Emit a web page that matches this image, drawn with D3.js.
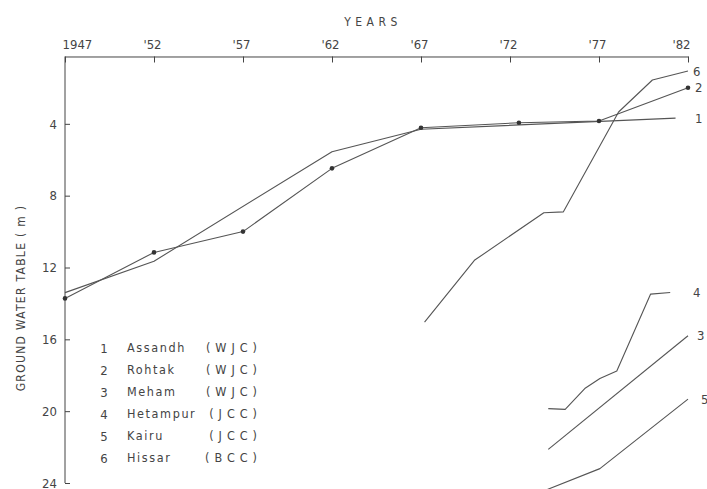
<!DOCTYPE html>
<html>
<head>
<meta charset="utf-8">
<script src="https://cdn.jsdelivr.net/npm/d3@7"></script>
<style>
  html, body { margin: 0; padding: 0; background: #fff; }
  svg { display: block; }
  text {
    font-family: 'DejaVu Sans Condensed', 'DejaVu Sans', sans-serif;
    font-stretch: condensed;
    fill: #444;
  }
</style>
</head>
<body>
<svg id="chart" width="707" height="489"></svg>
<script>
// Axis ticks
const yearTicks = [1947, 1952, 1957, 1962, 1967, 1972, 1977, 1982];
const yearLabels = ["1947", "'52", "'57", "'62", "'67", "'72", "'77", "'82"];
const depthTicks = [4, 8, 12, 16, 20, 24];

// Depth to ground water table (m below surface), [year, depth]
const assandh  = [[1947, 13.4], [1952, 11.65], [1962, 5.55], [1967, 4.3], [1981.3, 3.68]];
const rohtak   = [[1947, 13.72], [1952, 11.16], [1957, 10.0], [1962, 6.48], [1967, 4.22],
                  [1972.5, 3.94], [1977, 3.84], [1982, 1.99]];
const meham    = [[1974.15, 22.13], [1982, 15.8]];
const hetampur = [[1974.15, 19.86], [1975.1, 19.9], [1976.2, 18.74], [1977.05, 18.18],
                  [1978, 17.76], [1979.9, 13.48], [1981, 13.39]];
const kairu    = [[1974, 24.4], [1977.05, 23.2], [1982, 19.33]];
const hissar   = [[1967.2, 15.04], [1970, 11.6], [1973.9, 8.95], [1975, 8.9],
                  [1978.1, 3.34], [1980, 1.56], [1982, 1.06]];

// Legend entries
const seriesNos = ["1", "2", "3", "4", "5", "6"];
const siteNames = ["Assandh", "Rohtak", "Meham", "Hetampur", "Kairu", "Hissar"];
const canals    = ["(WJC)", "(WJC)", "(WJC)", "(JCC)", "(JCC)", "(BCC)"];

const seriesData = [assandh, rohtak, meham, hetampur, kairu, hissar];

const svg = d3.select("#chart");

const x = d3.scaleLinear().domain([1947, 1982]).range([65, 688]);
const y = d3.scaleLinear().domain([0, 24]).range([52, 483]);
const topY = y(0.25);

const ink = "#444";

// Top (years) axis, ticks pointing into the plot
const gTop = svg.append("g")
  .attr("transform", `translate(0,${topY})`)
  .call(d3.axisTop(x)
    .tickValues(yearTicks)
    .tickFormat((d, i) => yearLabels[i])
    .tickSizeInner(-6)
    .tickSizeOuter(0)
    .tickPadding(7));
gTop.select(".domain").attr("stroke", ink);
gTop.selectAll(".tick line").attr("stroke", ink);
gTop.selectAll(".tick text")
  .attr("fill", ink)
  .style("font-size", "13px")
  .attr("font-family", null)
  .attr("text-anchor", (d, i) => i === 0 ? "start" : "middle")
  .attr("dx", (d, i) => i === 0 ? -3 : (i === yearTicks.length - 1 ? -7 : -2));

// Left (depth) axis, ticks pointing into the plot
const gLeft = svg.append("g")
  .attr("transform", `translate(${x(1947)},0)`)
  .call(d3.axisLeft(y)
    .tickValues(depthTicks)
    .tickSizeInner(-5)
    .tickSizeOuter(0)
    .tickPadding(8));
gLeft.select(".domain").remove();
gLeft.selectAll(".tick line").attr("stroke", ink);
gLeft.selectAll(".tick text")
  .attr("fill", ink)
  .attr("font-family", null)
  .style("font-size", "13px");
svg.append("line")
  .attr("x1", x(1947)).attr("x2", x(1947))
  .attr("y1", topY).attr("y2", y(24))
  .attr("stroke", ink);

// Axis titles
svg.append("text")
  .attr("x", 373).attr("y", 26)
  .attr("text-anchor", "middle")
  .style("font-size", "12px")
  .style("letter-spacing", "4.5px")
  .text("YEARS");

svg.append("text")
  .attr("transform", "translate(21,298) rotate(-90)")
  .attr("text-anchor", "middle")
  .attr("dy", "0.35em")
  .style("font-size", "12px")
  .style("letter-spacing", "1.3px")
  .text("GROUND WATER TABLE ( m )");

// Series lines
const line = d3.line().x(d => x(d[0])).y(d => y(d[1]));
svg.append("g")
  .selectAll("path")
  .data(seriesData)
  .join("path")
  .attr("d", line)
  .attr("fill", "none")
  .attr("stroke", "#555")
  .attr("stroke-width", 1.1)
  .attr("stroke-linejoin", "round");

// Observation points on the Rohtak record
svg.append("g")
  .selectAll("circle")
  .data(rohtak)
  .join("circle")
  .attr("cx", d => x(d[0]))
  .attr("cy", d => y(d[1]))
  .attr("r", 2.3)
  .attr("fill", "#333");

// Series numbers at the line ends
const endDx = [7, 7, 9, 5, 13, 5];
svg.append("g")
  .selectAll("text")
  .data(seriesData)
  .join("text")
  .attr("x", (d, i) => x(1982) + endDx[i])
  .attr("y", d => y(d[d.length - 1][1]))
  .attr("dy", "0.35em")
  .style("font-size", "13px")
  .text((d, i) => seriesNos[i]);

// Legend
const legendTop = 348, legendStep = 22;
const leg = svg.append("g");
leg.selectAll("text.no")
  .data(seriesNos)
  .join("text")
  .attr("class", "no")
  .attr("x", 104)
  .attr("y", (d, i) => legendTop + i * legendStep)
  .attr("dy", "0.35em")
  .attr("text-anchor", "middle")
  .style("font-size", "13px")
  .text(d => d);
leg.selectAll("text.site")
  .data(siteNames)
  .join("text")
  .attr("class", "site")
  .attr("x", 127)
  .attr("y", (d, i) => legendTop + i * legendStep)
  .attr("dy", "0.35em")
  .style("font-size", "12.5px")
  .style("letter-spacing", "1.6px")
  .text(d => d);
leg.selectAll("text.canal")
  .data(canals)
  .join("text")
  .attr("class", "canal")
  .attr("x", 262)
  .attr("y", (d, i) => legendTop + i * legendStep)
  .attr("dy", "0.35em")
  .attr("text-anchor", "end")
  .style("font-size", "12.5px")
  .style("letter-spacing", "5px")
  .text(d => d);
</script>
</body>
</html>
